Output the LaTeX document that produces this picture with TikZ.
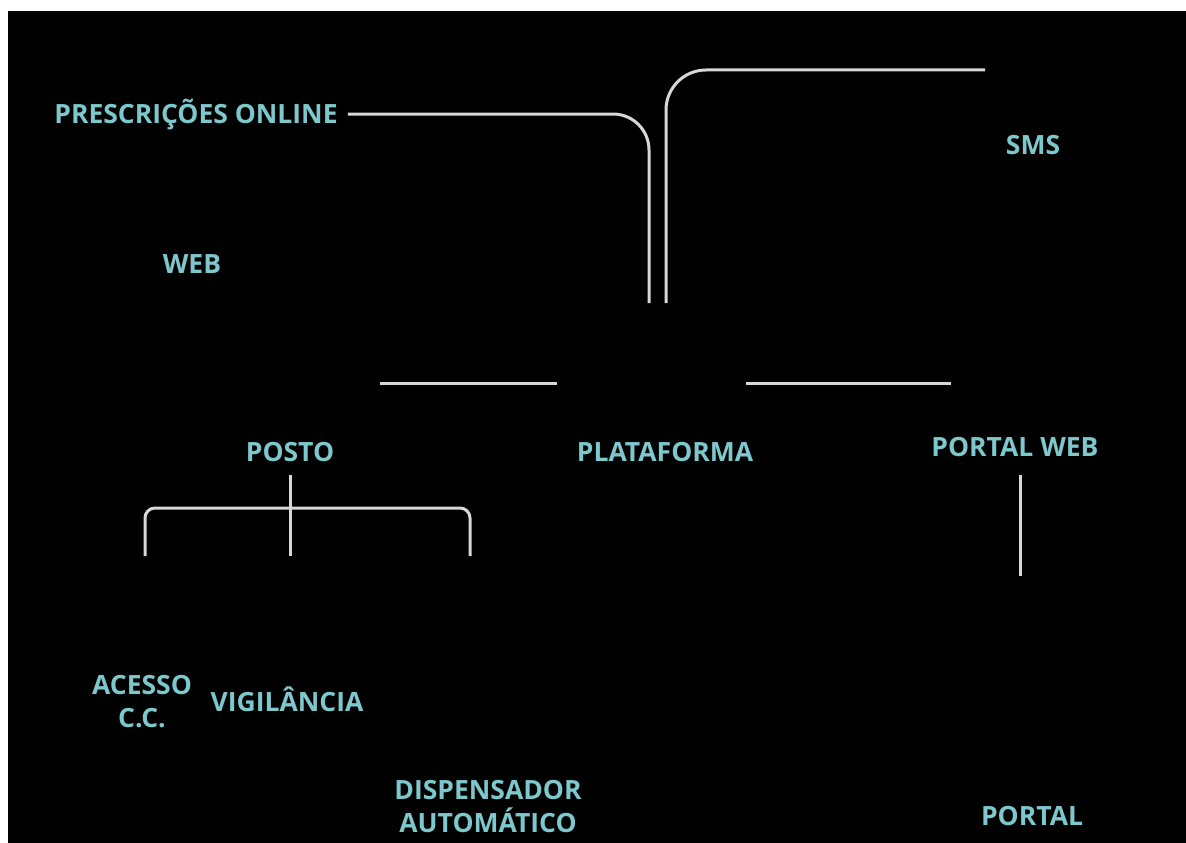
\documentclass[tikz,border=0pt]{standalone}
\usepackage{fontspec}
\setmainfont{Open Sans}
\definecolor{labelteal}{RGB}{125,200,205}
\definecolor{linegray}{RGB}{215,215,215}

\begin{document}
\begin{tikzpicture}[x=1pt,y=-1pt,
    lbl/.style={text=labelteal,font=\fontsize{26.5}{33}\selectfont\bfseries,align=center,inner sep=0pt},
    wire/.style={draw=linegray,line width=3pt}]
        \useasboundingbox[fill=white] (0,0) rectangle (1186,843);
        \fill[black] (8,11) rectangle (1186,843);
        % labels
        \node[lbl] (presc) at (196,114) {PRESCRIÇÕES ONLINE};
        \node[lbl] (web) at (192,264) {WEB};
        \node[lbl] (sms) at (1033,145) {SMS};
        \node[lbl] (posto) at (290,452) {POSTO};
        \node[lbl] (plat) at (665,452) {PLATAFORMA};
        \node[lbl] (portalweb) at (1015,447) {PORTAL WEB};
        \node[lbl] (acesso) at (142,702) {ACESSO\\C.C.};
        \node[lbl] (vigil) at (287,699) {VIGILÂNCIA};
        \node[lbl] (dispens) at (488,807) {DISPENSADOR\\AUTOMÁTICO};
        \node[lbl] (portal) at (1032,816) {PORTAL};
        % free line ends
        \coordinate (smsend) at (985,70);
        \coordinate (hubl) at (649,303);
        \coordinate (hubr) at (666,303);
        \draw[wire,rounded corners=36] ([xshift=10pt]presc.east) -| (hubl);
        \draw[wire,rounded corners=40] (smsend) -| (hubr);
        \draw[wire] (380,383) -- (557,383);
        \draw[wire] (746,383) -- (951,383);
        \draw[wire] (290,475) -- (290,556);
        \draw[wire,rounded corners=10] (145,556) -- (145,508) -- (470,508) -- (470,556);
        \draw[wire] (1020,475) -- (1020,576);
      \end{tikzpicture}
\end{document}
